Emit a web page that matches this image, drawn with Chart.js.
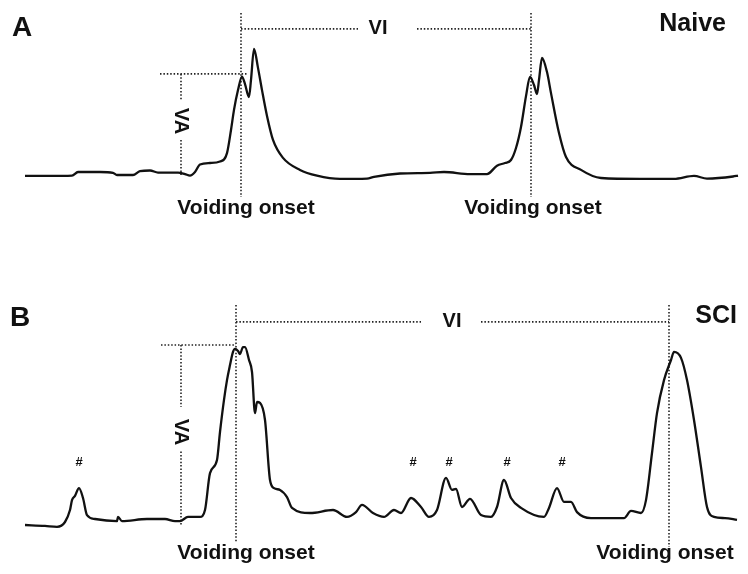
<!DOCTYPE html>
<html>
<head>
<meta charset="utf-8">
<script src="https://cdn.jsdelivr.net/npm/chart.js@4/dist/chart.umd.min.js"></script>
<style>
  html, body { margin: 0; padding: 0; background: #fff; }
  canvas { display: block; }
</style>
</head>
<body>
<canvas id="naiveChart" width="748" height="287"></canvas>
<canvas id="sciChart" width="748" height="287"></canvas>
<script>
// ── Data: bladder pressure traces (time in s, pressure in cmH2O above baseline) ──

const naiveTime = [0, 25, 47, 53, 75, 88, 92, 108, 115, 125, 133, 153, 160, 165, 170, 175, 185, 195, 202, 206,
  209, 213, 217, 220, 224, 226, 229, 233, 237, 242, 248, 258, 275, 292, 315, 342, 349, 375, 405, 419,
  445, 462, 472, 480, 486, 491, 496, 501, 505, 509, 512, 514, 517, 522, 526, 534, 541, 556, 576, 615,
  649, 669, 682, 708, 713];
const naivePressure = [-0.3, -0.3, -0.2, 1.0, 1.0, 0.7, 0, 0, 1.3, 1.5, 0.8, 0.8, 0.3, -0.2, 1.0, 3.5, 4, 4.5, 7.3, 15,
  21.7, 28.3, 32.8, 30.3, 26, 31.7, 42, 35.7, 28.3, 19.7, 11.7, 5.7, 1.7, -0.2, -1.3, -1.2, -0.6, 0.5, 0.7, 1,
  0.3, 0.3, 3.1, 4, 5, 9, 16, 26.3, 32.7, 30, 27, 31.7, 39, 34.3, 27.3, 14, 6, 1.7, -1, -1.3,
  -1.3, -0.3, -1.2, -0.5, -0.2];

const sciTime = [0, 20, 32, 40, 45, 47, 50, 54, 58, 62, 70, 92, 93, 97, 122, 140, 150, 155, 163, 175,
  180, 185, 192, 195, 199, 202, 205, 208, 210, 213, 215, 218, 220, 224, 227, 230, 232, 235, 240, 245,
  249, 255, 262, 267, 285, 308, 322, 331, 337, 348, 359, 369, 376, 386, 396, 404, 412, 421, 427, 431,
  437, 445, 456, 466, 472, 479, 486, 496, 519, 524, 532, 539, 546, 552, 566, 599, 606, 616, 621, 627,
  632, 639, 646, 649, 656, 662, 669, 676, 682, 689, 700, 712];
const sciPressure = [0, -0.3, -0.6, 1, 5, 8.3, 9.7, 12.3, 9, 3.3, 2, 1.3, 2.7, 1.3, 2, 2, 1.3, 1.3, 2.7, 2.7,
  5, 17.3, 21.7, 31, 41.7, 48.3, 53.3, 57.7, 58.7, 58, 57, 59.3, 59.3, 55, 51, 37.3, 41, 40.7, 35, 15,
  12.3, 11.7, 9.3, 5.7, 4, 5, 2.7, 4.3, 6.7, 4, 2.7, 5, 4, 9, 6, 2.7, 5, 15.7, 11.7, 12,
  6, 8.7, 3.3, 2.7, 6, 15, 9, 5.7, 2.7, 5.7, 12.3, 7.7, 7.7, 4.3, 2.3, 2.3, 4.7, 4, 8.3, 24,
  37.3, 48.3, 55, 57.7, 55.7, 48.3, 35, 19.3, 6, 2.7, 2.3, 1.7];

// Voiding onsets (s), voiding amplitude level (cmH2O), non-voiding contractions (s)
const naiveOnsets   = [216, 506];
const naiveVA       = 33.7;
const sciOnsets     = [211, 644];
const sciVA         = 60;
const sciNVC        = [54, 388, 424, 482, 537];

// ── Helpers ───────────────────────────────────────────────────────────────────

const FONT = '"Liberation Sans", Arial, Helvetica, sans-serif';

function trace(time, pressure) {
    return {
        data:        time.map((t, i) => ({ x: t, y: pressure[i] })),
        borderColor: '#111',
        borderWidth: 2.3,
        pointRadius: 0,
        tension:     0.3,
        cubicInterpolationMode: 'monotone',
        order:       0
    };
}

function dotted(x1, y1, x2, y2) {
    return {
        data:        [{ x: x1, y: y1 }, { x: x2, y: y2 }],
        borderColor: '#222',
        borderWidth: 1.6,
        borderDash:  [1.5, 1.9],
        pointRadius: 0,
        order:       1
    };
}

// draws panel texts at data positions
const panelText = {
    id: 'panelText',
    afterDraw(chart, args, opts) {
        const { ctx, scales: { x, y } } = chart;
        (opts.items || []).forEach(it => {
            ctx.save();
            ctx.fillStyle = '#111';
            ctx.font = 'bold ' + it.size + 'px ' + FONT;
            ctx.textAlign = it.align || 'center';
            ctx.textBaseline = 'middle';
            ctx.translate(x.getPixelForValue(it.x), y.getPixelForValue(it.y));
            if (it.rotate) ctx.rotate(Math.PI / 2);
            ctx.fillText(it.text, 0, 0);
            ctx.restore();
        });
    }
};

function makePanel(id, datasets, yMin, yMax, items) {
    return new Chart(document.getElementById(id), {
        type: 'line',
        data: { datasets },
        plugins: [panelText],
        options: {
            responsive: false,
            animation:  false,
            layout:     { padding: 0 },
            scales: {
                x: { type: 'linear', display: false, min: -25, max: 723 },
                y: { type: 'linear', display: false, min: yMin, max: yMax }
            },
            plugins: {
                legend:    { display: false },
                tooltip:   { enabled: false },
                panelText: { items }
            }
        }
    });
}

// ── Panel A: Naive ───────────────────────────────────────────────────────────

const [aOn1, aOn2] = naiveOnsets;
makePanel('naiveChart', [
    trace(naiveTime, naivePressure),
    dotted(135, naiveVA, aOn1 + 6, naiveVA),
    dotted(156, naiveVA, 156, 25),
    dotted(156, 11.7, 156, 0),
    dotted(aOn1, 54, aOn1, -7.3),
    dotted(aOn2, 54, aOn2, -7.3),
    dotted(aOn1, 48.7, 333, 48.7),
    dotted(392, 48.7, aOn2, 48.7)
], -37.33, 58.33, [
    { text: 'A',             x: -13,      y: 48.8, size: 28, align: 'left' },
    { text: 'Naive',         x: 701,      y: 50.3, size: 25, align: 'right' },
    { text: 'VI',            x: 353,      y: 48.7, size: 20 },
    { text: 'VA',            x: 156,      y: 18,   size: 20, rotate: true },
    { text: 'Voiding onset', x: aOn1 + 5, y: -11,  size: 21 },
    { text: 'Voiding onset', x: aOn2 + 2, y: -11,  size: 21 }
]);

// ── Panel B: SCI ─────────────────────────────────────────────────────────────

const [bOn1, bOn2] = sciOnsets;
makePanel('sciChart', [
    trace(sciTime, sciPressure),
    dotted(136, sciVA, bOn1, sciVA),
    dotted(156, sciVA, 156, 39.3),
    dotted(156, 24.5, 156, 0),
    dotted(bOn1, 73.3, bOn1, -6),
    dotted(bOn2, 73.3, bOn2, -7.3),
    dotted(bOn1, 67.7, 396, 67.7),
    dotted(456, 67.7, bOn2, 67.7)
], -16.33, 79.33, [
    { text: 'B',             x: -15,       y: 69,   size: 28, align: 'left' },
    { text: 'SCI',           x: 712,       y: 69.7, size: 25, align: 'right' },
    { text: 'VI',            x: 427,       y: 67.7, size: 20 },
    { text: 'VA',            x: 156,       y: 31,   size: 20, rotate: true },
    { text: 'Voiding onset', x: bOn1 + 10, y: -9.3, size: 21 },
    { text: 'Voiding onset', x: bOn2 - 4,  y: -9.3, size: 21 },
    ...sciNVC.map(t => ({ text: '#', x: t, y: 20.7, size: 13 }))
]);
</script>
</body>
</html>
